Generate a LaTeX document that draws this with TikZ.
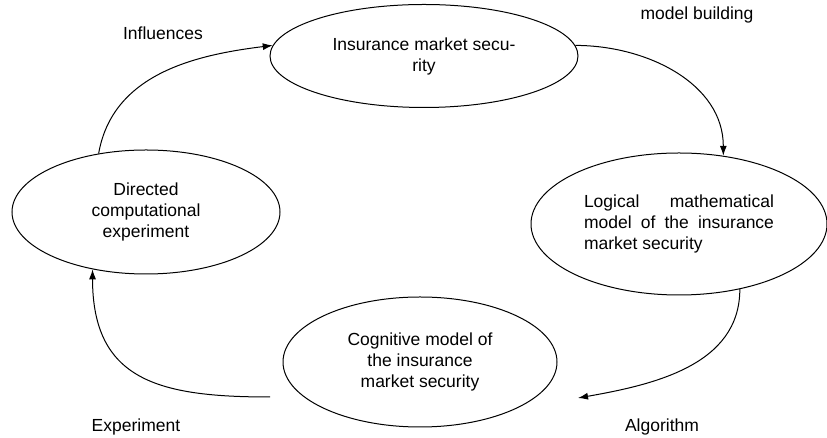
\documentclass[tikz,border=0pt]{standalone}
\usepackage{fontspec}
\setmainfont{Liberation Sans}
\usetikzlibrary{shapes.geometric,arrows.meta}

\begin{document}
\begin{tikzpicture}[x=1pt,y=1pt,
    oval/.style={draw, ellipse, line width=1pt, inner sep=0pt, align=center, font=\fontsize{17.5}{21}\selectfont},
    flow/.style={line width=1pt, -{Latex[length=10pt,width=7pt]}},
    tag/.style={font=\fontsize{17.5}{21}\selectfont}]
  \useasboundingbox (0,0) rectangle (827,438);

  \node [oval, minimum width=308pt, minimum height=103pt] (ins) at (424,382) {Insurance market secu-\\rity}; % Draws an ellipse
  \node [oval, minimum width=296pt, minimum height=142pt, text width=190pt, align=justify] (log) at (679,214)
    {Logical mathematical\linebreak model of the insurance\linebreak market security}; % Draws an ellipse
  \node [oval, minimum width=274pt, minimum height=130pt] (cog) at (420,76) {Cognitive model of\\the insurance\\market security}; % Draws an ellipse
  \node [oval, minimum width=268pt, minimum height=124pt] (dir) at (146,226) {Directed\\computational\\experiment}; % Draws an ellipse

  \node [tag] (infl) at (163,405) {Influences};
  \node [tag] (build) at (697,423) {model building};
  \node [tag] (algo) at (662,11) {Algorithm};
  \node [tag] (expt) at (136,11) {Experiment};

  \coordinate (algoend) at (578,40);
  \coordinate (exptstart) at (270,41);

  \draw [flow] (dir.129) to [out=80, in=187] (ins.176);
  \draw [flow] (ins.4) to [out=0, in=90] (log.57);
  \draw [flow] (log.-47) to [out=-90, in=10] (algoend);
  \draw [flow] (exptstart) to [out=180, in=-90, looseness=1.3] (dir.-133);
\end{tikzpicture}
\end{document}
